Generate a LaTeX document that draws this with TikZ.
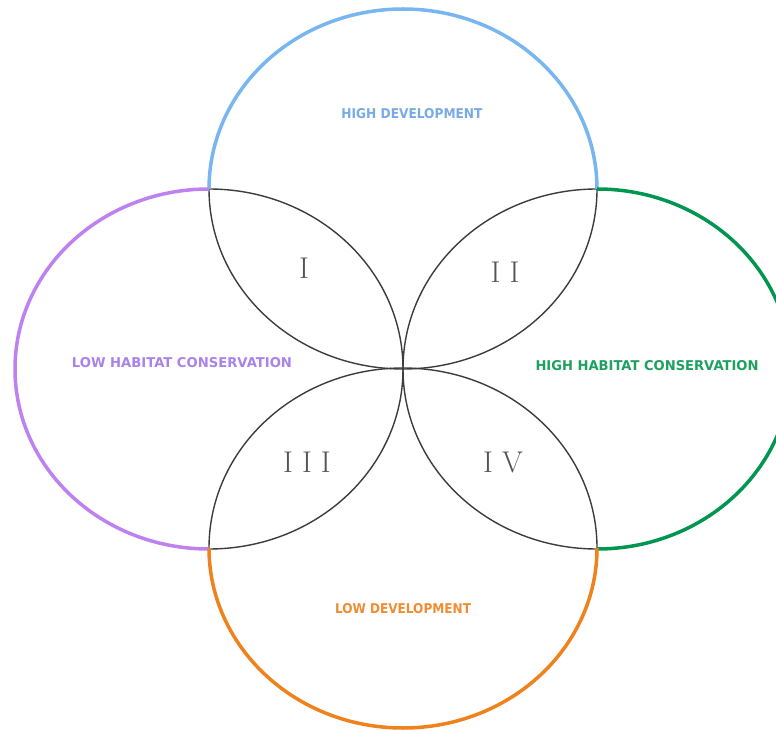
\documentclass[tikz,border=0pt]{standalone}
\usepackage{fontspec}
\setmainfont{Latin Modern Roman}
\newfontfamily\labelfont{DejaVu Sans}
\usepackage{graphicx}
\definecolor{cblue}{RGB}{120,182,240}
\definecolor{cpurple}{RGB}{190,130,240}
\definecolor{cgreen}{RGB}{0,150,80}
\definecolor{corange}{RGB}{240,130,30}
\definecolor{tblue}{RGB}{120,170,232}
\definecolor{tpurple}{RGB}{170,130,232}
\definecolor{tgreen}{RGB}{30,160,95}
\definecolor{torange}{RGB}{240,140,50}
\definecolor{inner}{RGB}{60,60,60}
\definecolor{numgray}{RGB}{85,85,85}
\tikzset{
  outerarc/.style={line width=3.5pt},
  innerarc/.style={draw=inner,line width=1.4pt},
  lbl/.style={inner sep=0pt,font=\labelfont\bfseries},
  numeral/.style={inner sep=0pt,text=numgray,font=\fontsize{30}{33}\selectfont}
}
\begin{document}
\begin{tikzpicture}[x=1pt,y=1pt]
\useasboundingbox (0,0) rectangle (776,729);
\clip (0,0) rectangle (776,729);
\fill[white] (0,0) rectangle (776,729);
% top ellipse centre (403,540)
\draw[innerarc] (209,540) arc[start angle=180,end angle=360,x radius=194,y radius=180];
% left ellipse centre (209,360)
\draw[innerarc] (209,180) arc[start angle=-90,end angle=90,x radius=194,y radius=180];
% right ellipse centre (597,360)
\draw[innerarc] (597,540) arc[start angle=90,end angle=270,x radius=194,y radius=180];
% bottom ellipse centre (403,181)
\draw[innerarc] (209,181) arc[start angle=180,end angle=0,x radius=194,y radius=180];
% coloured outer arcs
\draw[outerarc,cblue] (209,540) arc[start angle=180,end angle=0,x radius=194,y radius=180];
\draw[outerarc,cpurple] (209,540) arc[start angle=90,end angle=270,x radius=194,y radius=180];
\draw[outerarc,cgreen] (597,180) arc[start angle=-90,end angle=90,x radius=194,y radius=180];
\draw[outerarc,corange] (209,181) arc[start angle=180,end angle=360,x radius=194,y radius=180];
% labels
\node[lbl,text=tblue] (hd) at (412,615) {\resizebox{141pt}{10pt}{HIGH DEVELOPMENT}};
\node[lbl,text=tpurple] (lh) at (182,366) {\resizebox{220pt}{10pt}{LOW HABITAT CONSERVATION}};
\node[lbl,text=tgreen] (hh) at (647,363) {\resizebox{223pt}{10pt}{HIGH HABITAT CONSERVATION}};
\node[lbl,text=torange] (ld) at (403,120) {\resizebox{136pt}{10pt}{LOW DEVELOPMENT}};
% numerals
\node[numeral] (n1) at (304,461) {I};
\node[numeral] (n2) at (505,457) {I I};
\node[numeral] (n3) at (307,267) {I I I};
\node[numeral] (n4) at (503,267) {I V};
\end{tikzpicture}
\end{document}
